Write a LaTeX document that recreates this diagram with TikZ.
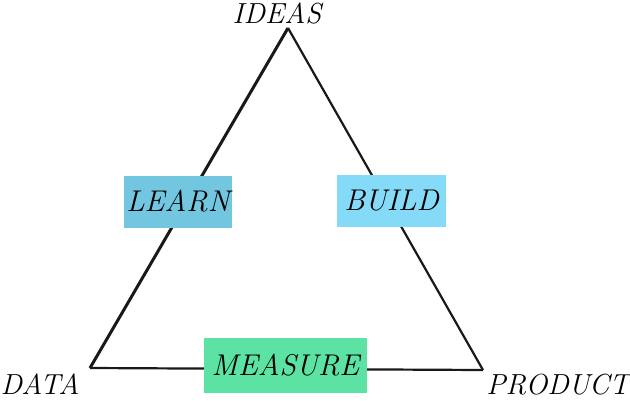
\documentclass[tikz,border=0pt]{standalone}
\usepackage{xcolor}
\definecolor{learnc}{HTML}{72C6E0}
\definecolor{buildc}{HTML}{85DAF8}
\definecolor{measc}{HTML}{5CE3A3}
\begin{document}
\begin{tikzpicture}[x=1pt,y=-1pt,
  lbl/.style={font=\fontsize{29}{30}\selectfont\itshape, text=black, inner sep=0pt},
  box/.style={draw=none, inner sep=0pt, minimum height=52pt, font=\fontsize{30}{32}\selectfont\itshape, text=black},
  edge/.style={draw=black!90, line width=3pt, line join=miter}]
\useasboundingbox (0,0) rectangle (630,400);
\coordinate (top) at (288,28);
\coordinate (bl) at (90,368);
\coordinate (br) at (483,370);
\draw[edge] (top) -- (bl);
\draw[edge, line width=2.2pt] (top) -- (br);
\draw[edge, line width=2.2pt] (bl) -- (br);
\node[box, fill=learnc, minimum width=108pt] (learn) at (178,201.5) {LEARN};
\node[box, fill=buildc, minimum width=109pt] (build) at (391.5,201) {BUILD};
\node[box, fill=measc, minimum width=163pt, minimum height=55pt] (measure) at (285.5,365.5) {MEASURE};
\node[lbl] (ideas) at (277,13) {IDEAS};
\node[lbl] (data) at (40,384) {DATA};
\node[lbl] (product) at (558,385) {PRODUCT};
\end{tikzpicture}
\end{document}
